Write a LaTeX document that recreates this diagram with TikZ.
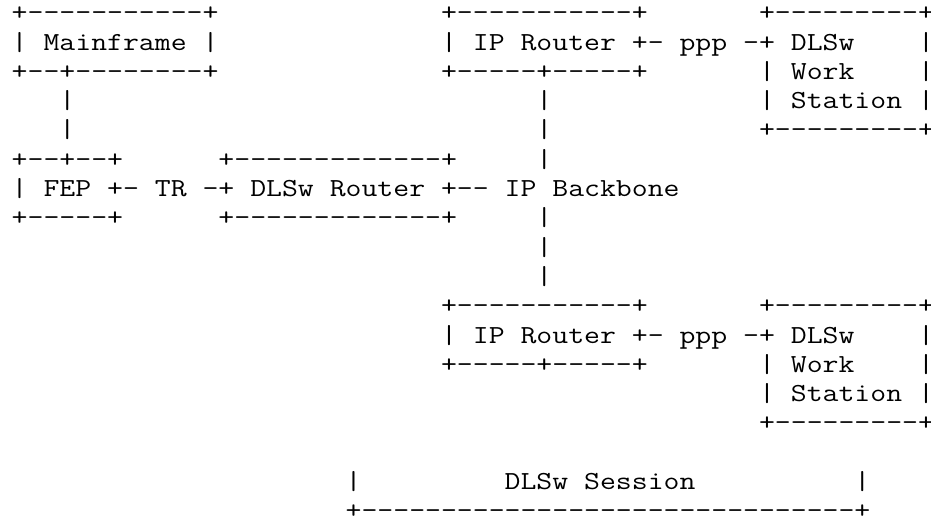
\documentclass[tikz,border=0pt]{standalone}
\tikzset{asciiline/.style={anchor=base west,inner sep=0pt,outer sep=0pt,xscale=1.1875,transform shape,font=\fontsize{26}{26}\selectfont\ttfamily}}
\begin{document}
\begin{tikzpicture}[x=1pt,y=1pt]
\useasboundingbox (0,0) rectangle (931,-523);
\fill[white] (0,0) rectangle (931,-523);
\node[asciiline] (r00) at (11.75,-20.7) {\verb!+-----------+              +-----------+       +---------+!};
\node[asciiline] (r01) at (11.75,-50.0) {\verb!| Mainframe |              | IP Router +- ppp -+ DLSw    |!};
\node[asciiline] (r02) at (11.75,-79.3) {\verb!+--+--------+              +-----+-----+       | Work    |!};
\node[asciiline] (r03) at (11.75,-108.6) {\verb!   |                             |             | Station |!};
\node[asciiline] (r04) at (11.75,-137.9) {\verb!   |                             |             +---------+!};
\node[asciiline] (r05) at (11.75,-167.2) {\verb!+--+--+      +-------------+     |!};
\node[asciiline] (r06) at (11.75,-196.5) {\verb!| FEP +- TR -+ DLSw Router +-- IP Backbone!};
\node[asciiline] (r07) at (11.75,-225.8) {\verb!+-----+      +-------------+     |!};
\node[asciiline] (r08) at (11.75,-255.1) {\verb!                                 |!};
\node[asciiline] (r09) at (11.75,-284.4) {\verb!                                 |!};
\node[asciiline] (r10) at (11.75,-313.7) {\verb!                           +-----------+       +---------+!};
\node[asciiline] (r11) at (11.75,-343.0) {\verb!                           | IP Router +- ppp -+ DLSw    |!};
\node[asciiline] (r12) at (11.75,-372.3) {\verb!                           +-----+-----+       | Work    |!};
\node[asciiline] (r13) at (11.75,-401.6) {\verb!                                               | Station |!};
\node[asciiline] (r14) at (11.75,-430.9) {\verb!                                               +---------+!};
\node[asciiline] (r16) at (11.75,-489.5) {\verb!                     |         DLSw Session          |!};
\node[asciiline] (r17) at (11.75,-518.8) {\verb!                     +-------------------------------+!};
\end{tikzpicture}
\end{document}
